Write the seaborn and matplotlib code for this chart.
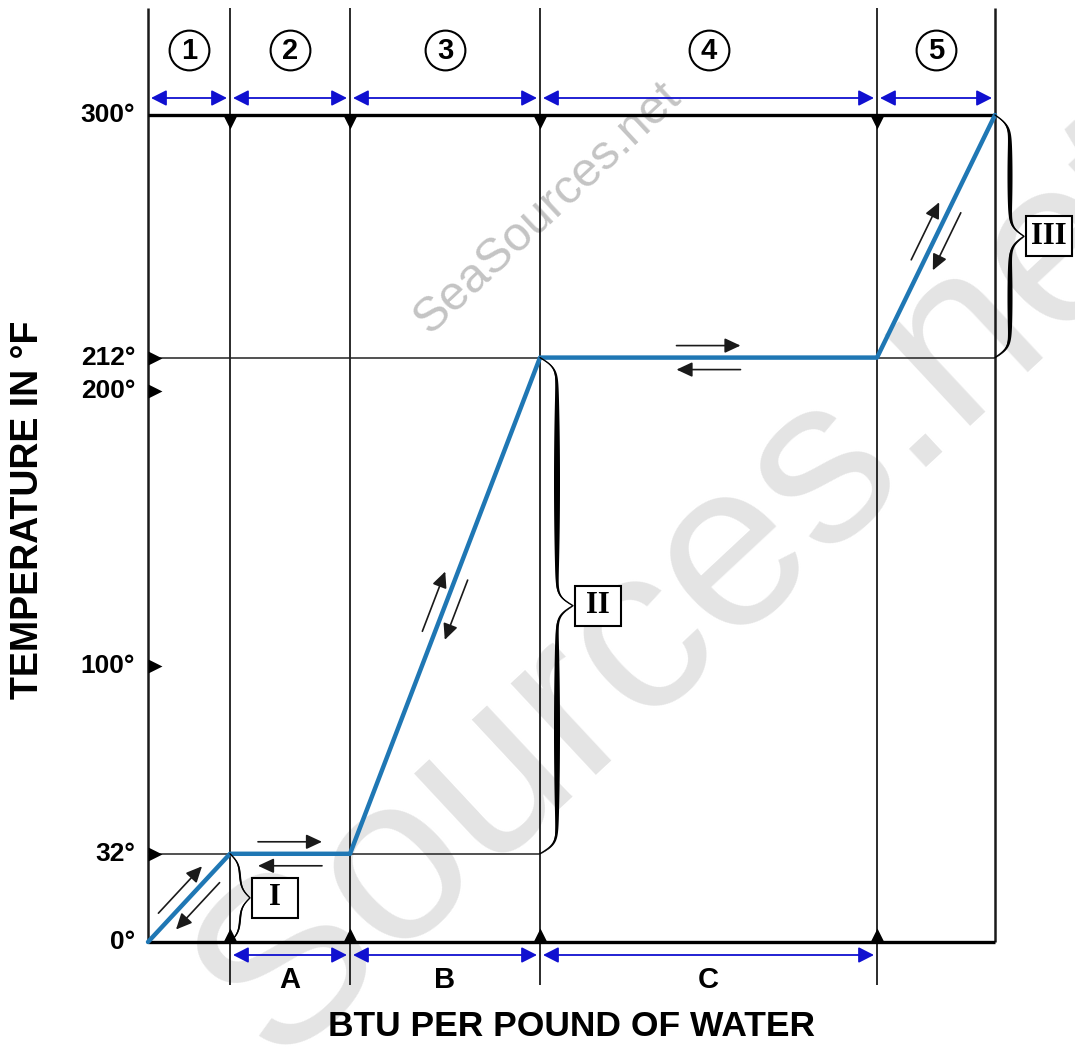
import numpy as np
import pandas as pd
import matplotlib.pyplot as plt
import seaborn as sns
from matplotlib.patches import Rectangle

# stage boundaries on the (schematic) BTU axis and the temperature at each one
btu_edges = [0, 82, 202, 392, 729, 847]
temp_edges = [0, 32, 32, 212, 212, 300]
stage_labels = ['1', '2', '3', '4', '5']
phase_labels = ['A', 'B', 'C']
phase_stages = [1, 2, 3]          # A, B, C sit under stages 2, 3, 4
temp_ticks = [0, 32, 100, 200, 212, 300]
temp_tick_labels = ['0°', '32°', '100°', '200°', '212°', '300°']
marker_temps = [32, 100, 200, 212]
brace_labels = ['I', 'II', 'III']
brace_stages = [0, 2, 4]          # sloped stages that get a brace

# one degree is 827/300 px tall, one BTU unit is one px wide
PX_Y = 827 / 300.0

sns.set_style('white')
plt.rcParams['font.family'] = ['Liberation Sans', 'DejaVu Sans']
plt.rcParams['text.color'] = 'black'

fig = plt.figure(figsize=(10.75, 10.48), dpi=100)
ax = fig.add_axes([0, 0, 1, 1])

# watermarks
ax.text(127, -(1065 - 942) / PX_Y, 'Sources.net', fontsize=170, color='#e4e4e4',
        rotation=43, ha='left', va='baseline', rotation_mode='anchor', zorder=0)
ax.text(400, (942 - 208) / PX_Y, 'SeaSources.net', fontsize=35, color='#c4c4c4',
        rotation=43, ha='center', va='center', rotation_mode='anchor', zorder=0)

# frame lines
top_ext = 300 + 107 / PX_Y
bot_ext = -43 / PX_Y
inner = btu_edges[1:-1]
ax.vlines(inner, bot_ext, top_ext, color='#1a1a1a', lw=1.3, zorder=1)
ax.vlines([btu_edges[0], btu_edges[-1]], 0, top_ext, color='#1a1a1a', lw=1.8, zorder=1)
ax.hlines([0, 300], btu_edges[0], btu_edges[-1], color='black', lw=2.4, zorder=1)
ax.hlines(32, btu_edges[0], btu_edges[3], color='#222222', lw=1.1, zorder=1)
ax.hlines(212, btu_edges[0], btu_edges[-1], color='#222222', lw=1.1, zorder=1)

# heating curve
df = pd.DataFrame({'btu': btu_edges, 'temp': temp_edges})
sns.lineplot(data=df, x='btu', y='temp', sort=False, estimator=None,
             color='#1f77b4', linewidth=3.2, ax=ax, zorder=3)

# triangle markers on the frame
tri = 7 / PX_Y
sns.scatterplot(x=inner, y=[300 - tri] * len(inner), marker='v', s=100,
                color='black', linewidth=0, ax=ax, zorder=4)
sns.scatterplot(x=inner, y=[tri] * len(inner), marker='^', s=100,
                color='black', linewidth=0, ax=ax, zorder=4)
sns.scatterplot(x=[7] * len(marker_temps), y=marker_temps, marker='>', s=100,
                color='black', linewidth=0, ax=ax, zorder=4)

# temperature labels
for t, lab in zip(temp_ticks, temp_tick_labels):
    ax.text(-13, t, lab, fontsize=19, fontweight='bold', ha='right', va='center')

# stage numbers and blue span arrows
mids = [(btu_edges[i] + btu_edges[i + 1]) / 2 for i in range(5)]
y_circ = (942 - 50) / PX_Y
sns.scatterplot(x=mids, y=[y_circ] * 5, marker='o', s=820, facecolor='white',
                edgecolor='black', linewidth=1.5, ax=ax, zorder=4)
blue_arrow = dict(arrowstyle='<|-|>,head_length=0.55,head_width=0.28', color='#1010d0',
                  lw=1.3, shrinkA=0, shrinkB=0, mutation_scale=17)
y_top_arr = (942 - 98) / PX_Y
for i, lab in enumerate(stage_labels):
    ax.text(mids[i], y_circ - 1.2 / PX_Y, lab, fontsize=21, fontweight='bold',
            ha='center', va='center', zorder=5)
    ax.annotate('', xy=(btu_edges[i + 1] - 3, y_top_arr), xytext=(btu_edges[i] + 3, y_top_arr),
                arrowprops=blue_arrow)

y_bot_arr = -(955 - 942) / PX_Y
for lab, s in zip(phase_labels, phase_stages):
    ax.annotate('', xy=(btu_edges[s + 1] - 3, y_bot_arr), xytext=(btu_edges[s] + 3, y_bot_arr),
                arrowprops=blue_arrow)
    ax.text(mids[s], -(980 - 942) / PX_Y, lab, fontsize=21, fontweight='bold',
            ha='center', va='center')

# axis titles
ax.text(423, -(1027 - 942) / PX_Y, 'BTU PER POUND OF WATER', fontsize=25.5,
        fontweight='bold', ha='center', va='center')
ax.text(-120, (942 - 510) / PX_Y, 'TEMPERATURE IN °F', fontsize=27,
        fontweight='bold', ha='center', va='center', rotation=90)

# small black arrows along each segment (heat added / heat removed)
black_arrow = dict(arrowstyle='-|>,head_length=0.6,head_width=0.28', color='#1a1a1a',
                   lw=1.2, shrinkA=0, shrinkB=0, mutation_scale=16)
for i in range(5):
    p0 = np.array([btu_edges[i], temp_edges[i] * PX_Y])
    p1 = np.array([btu_edges[i + 1], temp_edges[i + 1] * PX_Y])
    d = (p1 - p0) / np.linalg.norm(p1 - p0)
    n = np.array([-d[1], d[0]])
    mid = (p0 + p1) / 2
    for side in (1, -1):
        c = mid + 12 * side * n
        a = c - 32 * side * d
        b = c + 32 * side * d
        ax.annotate('', xy=(b[0], b[1] / PX_Y), xytext=(a[0], a[1] / PX_Y),
                    arrowprops=black_arrow)


# curly braces with boxed roman numerals
def brace(x, y0, y1, tip, thick, label):
    span = (y1 - y0) * PX_Y
    half = span / 2
    u = np.linspace(0, half, 200)
    beta = 0.2
    v = 1 / (1 + np.exp(-beta * u)) + 1 / (1 + np.exp(-beta * (u - half)))
    w = (v - v[0]) / (v[-1] - v[0])
    off = np.concatenate([w, w[::-1]]) * tip
    b = np.sin(np.pi * u / half) ** 0.6
    bump = np.concatenate([b, b[::-1]]) * thick
    ys = np.concatenate([u, half + u]) / PX_Y + y0
    ax.fill_betweenx(ys, x + off - bump / 2, x + off + bump / 2, color='black', lw=0, zorder=3)
    ax.plot(x + off, ys, color='black', lw=1.0, zorder=3)
    ym = (y0 + y1) / 2
    bw, bh = 46, 40 / PX_Y
    ax.add_patch(Rectangle((x + tip + 2, ym - bh / 2), bw, bh, facecolor='white',
                           edgecolor='black', lw=1.5, zorder=4))
    ax.text(x + tip + 2 + bw / 2, ym, label, family='Liberation Serif', fontweight='bold',
            fontsize=22, ha='center', va='center', zorder=5)


tips = {0: 20, 2: 33, 4: 29}
thicks = {0: 2.0, 2: 6.0, 4: 5.0}
for lab, s in zip(brace_labels, brace_stages):
    brace(btu_edges[s + 1], temp_edges[s], temp_edges[s + 1], tips[s], thicks[s], lab)

ax.set_xlim(-148, 927)
ax.set_ylim(-106 / PX_Y, 300 + 115 / PX_Y)
ax.axis('off')

fig.savefig('out.png', dpi=100, facecolor='white')
